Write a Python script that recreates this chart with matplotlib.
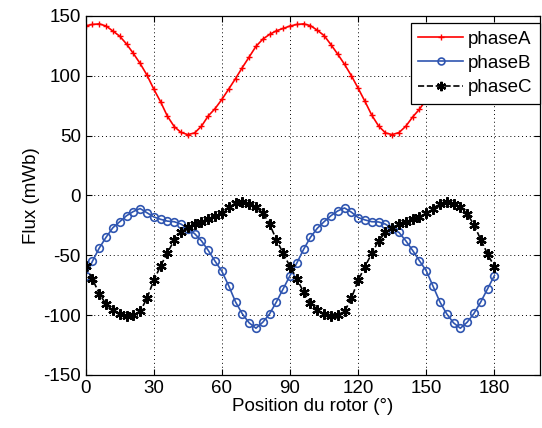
import numpy as np
import matplotlib
matplotlib.use("Agg")
import matplotlib.pyplot as plt

plt.rcParams['font.family'] = ['Liberation Sans', 'DejaVu Sans']
plt.rcParams['axes.unicode_minus'] = False

# rotor position (deg), one sample every 3 degrees
position = np.arange(0, 181, 3)

phaseA = [141.7, 142.8, 143.3, 141.5, 137.3, 133.0, 126.5, 118.6, 110.2, 100.5,
          88.8, 78.2, 66.2, 57.5, 52.6, 50.8, 52.2, 57.8, 66.4, 72.5,
          80.2, 88.8, 97.6, 106.8, 115.6, 124.5, 130.5, 134.5, 137.5, 139.5,
          141.5, 142.8, 143.3, 141.8, 138.0, 133.5, 126.0, 118.0, 109.5, 100.0,
          89.5, 78.5, 67.0, 58.0, 52.2, 50.8, 52.5, 57.8, 65.5, 72.0,
          80.0, 88.5, 97.5, 106.5, 115.5, 124.0, 130.0, 134.5, 137.5, 139.5, 141.5]

phaseB = [-67, -55, -44, -35, -27, -22, -17, -13.5, -11, -14.5,
          -18, -20, -21.5, -22, -24, -27.8, -32, -38, -46, -55,
          -63.5, -75.5, -89, -99, -106.5, -111, -106, -99, -89, -78,
          -67, -56.5, -45, -35, -27.5, -22, -17, -13, -10.5, -14,
          -18.5, -20.5, -22, -22.2, -24, -27.8, -31, -38, -46, -54.7,
          -63, -76, -89, -99, -106.5, -111, -106, -98.6, -89, -78, -67]

phaseC = [-59, -70, -82, -91, -96, -99.5, -100.5, -100, -97, -86,
          -71, -59, -48, -37.5, -30.5, -26.5, -24, -22, -19.5, -17.5,
          -15, -10, -6.5, -5.5, -7, -10, -14.5, -24, -37, -48.5,
          -59.5, -69.5, -81, -89.5, -95.5, -99.5, -100.5, -99.7, -97, -86,
          -71, -59.5, -48.5, -38, -31, -27, -24.2, -22.2, -20, -17.8,
          -15, -11, -6.8, -5.6, -6.8, -9.5, -15.5, -24.5, -37, -49, -59.5]

fig = plt.figure(figsize=(5.42, 4.28), dpi=100)
ax = fig.add_axes([0.158, 0.124, 0.838, 0.839])

ax.plot(position, phaseA, '-+', color='#ff0000', lw=1.2, ms=5, mew=1.0, label='phaseA')
ax.plot(position, phaseB, '-o', color='#2f55b0', lw=1.2, ms=5.5, mew=1.2,
        mfc='none', label='phaseB')
ax.plot(position, phaseC, '--', marker=(6, 2, 0), color='black', lw=1.2, ms=7.5,
        mew=1.6, label='phaseC')

ax.set_xlim(0, 200)
ax.set_ylim(-150, 150)
ax.set_xticks(np.arange(0, 181, 30))
ax.set_yticks(np.arange(-150, 151, 50))
ax.grid(True, color='black', linestyle=(0, (1, 3)), linewidth=0.7)
ax.tick_params(direction='in', top=True, right=True, labelsize=13.5, length=4)
for s in ax.spines.values():
    s.set_linewidth(0.9)

ax.set_xlabel('Position du rotor (°)', fontsize=13.5, labelpad=1)
ax.set_ylabel('Flux (mWb)', fontsize=13.5, labelpad=2)

leg = ax.legend(loc='upper right', bbox_to_anchor=(1.0, 0.98), fontsize=13.5,
                fancybox=False, framealpha=1, edgecolor='black', borderaxespad=0.0,
                handlelength=2.4, labelspacing=0.38, borderpad=0.4,
                handletextpad=0.25, markerscale=0.9)
leg.get_frame().set_linewidth(0.9)

fig.savefig('out.png', dpi=100)
